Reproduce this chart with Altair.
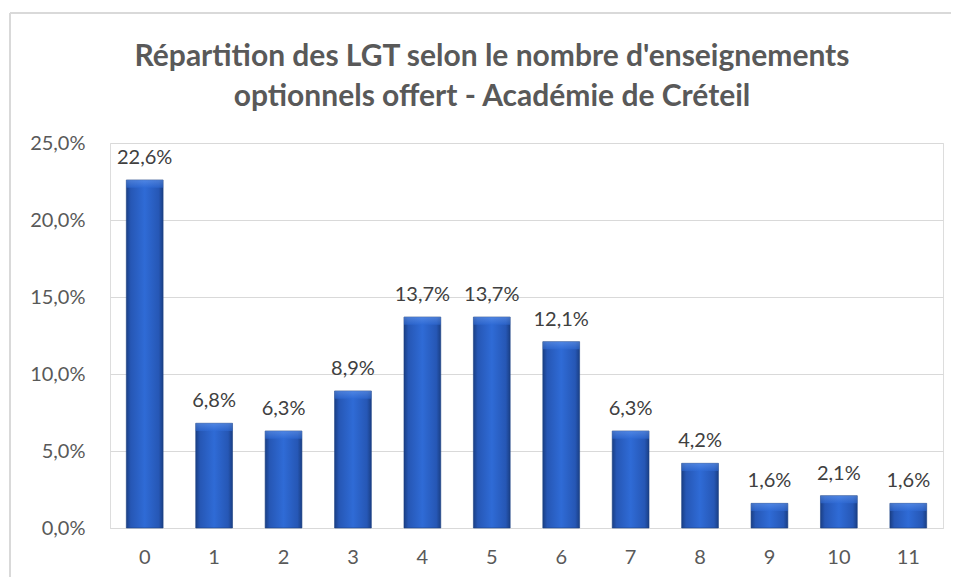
import altair as alt
import pandas as pd

categories = ["0", "1", "2", "3", "4", "5", "6", "7", "8", "9", "10", "11"]
values = [0.226, 0.068, 0.063, 0.089, 0.137, 0.137, 0.121, 0.063, 0.042, 0.016, 0.021, 0.016]
title_lines = ["Répartition des LGT selon le nombre d'enseignements",
               "optionnels offert - Académie de Créteil"]

df = pd.DataFrame({"cat": categories, "val": values})
title_df = pd.DataFrame({"t": ["\n".join(title_lines)]})

FONT = "Lato"
GRAY = "#595959"

xscale = alt.Scale(paddingInner=0.47, paddingOuter=0.235)
x = alt.X("cat:N", sort=categories, title=None, scale=xscale,
          axis=alt.Axis(labelAngle=0, labelFont=FONT, labelFontSize=20, labelColor=GRAY,
                        ticks=False, domain=True, domainColor="#d9d9d9", domainWidth=1,
                        labelPadding=19, grid=False))
y = alt.Y("val:Q", title=None,
          scale=alt.Scale(domain=[0, 0.25], nice=False),
          axis=alt.Axis(values=[0, 0.05, 0.10, 0.15, 0.20, 0.25],
                        labelExpr="replace(format(datum.value, '.1%'), '.', ',')",
                        labelFont=FONT, labelFontSize=20, labelColor=GRAY,
                        ticks=False, domain=False, grid=True, gridColor="#d9d9d9",
                        gridWidth=1, labelPadding=25))

grad = alt.Gradient(
    gradient="linear", x1=0, x2=1, y1=0, y2=0,
    stops=[alt.GradientStop(offset=0, color="#1a3f85"),
           alt.GradientStop(offset=0.12, color="#2657b5"),
           alt.GradientStop(offset=0.5, color="#2f6bd6"),
           alt.GradientStop(offset=0.88, color="#2657b5"),
           alt.GradientStop(offset=1, color="#1a3f85")])

top_grad = alt.Gradient(
    gradient="linear", x1=0, x2=0, y1=0, y2=1,
    stops=[alt.GradientStop(offset=0, color="#6a9cf0"),
           alt.GradientStop(offset=1, color="#2f6bd6")])

bars = alt.Chart(df).mark_bar(fill=grad, stroke="#1b3f82", strokeWidth=0.6).encode(x=x, y=y)

bevel = alt.Chart(df).transform_calculate(
    v2="datum.val - 0.005"
).mark_bar(fill=top_grad, opacity=0.55).encode(
    x=alt.X("cat:N", sort=categories, scale=xscale),
    y="val:Q", y2="v2:Q")

labels = alt.Chart(df).transform_calculate(
    lab="replace(format(datum.val, '.1%'), '.', ',')"
).mark_text(font=FONT, fontSize=20, color="#404040", baseline="bottom", dy=-12).encode(
    x=alt.X("cat:N", sort=categories), y="val:Q", text="lab:N")

title = alt.Chart(title_df).mark_text(
    font=FONT, fontSize=30, fontWeight="bold", color=GRAY, lineBreak="\n",
    lineHeight=40, align="center", baseline="middle"
).encode(x=alt.value(382), y=alt.value(-86), text="t:N")

border_left = alt.Chart(df).mark_rule(color="#d9d9d9", strokeWidth=2).encode(
    x=alt.value(-100), y=alt.value(-130), y2=alt.value(500))
border_top = alt.Chart(df).mark_rule(color="#d9d9d9", strokeWidth=2).encode(
    x=alt.value(-100), x2=alt.value(900), y=alt.value(-130))

chart = alt.layer(border_left, border_top, title, bars, bevel, labels).properties(
    width=833, height=385,
    autosize=alt.AutoSizeParams(type="none"),
    padding={"left": 102, "top": 135, "right": 8, "bottom": 49},
).configure_view(stroke=None).configure(background="white")

chart.save("out.html", embed_options={"renderer": "svg", "actions": False})
